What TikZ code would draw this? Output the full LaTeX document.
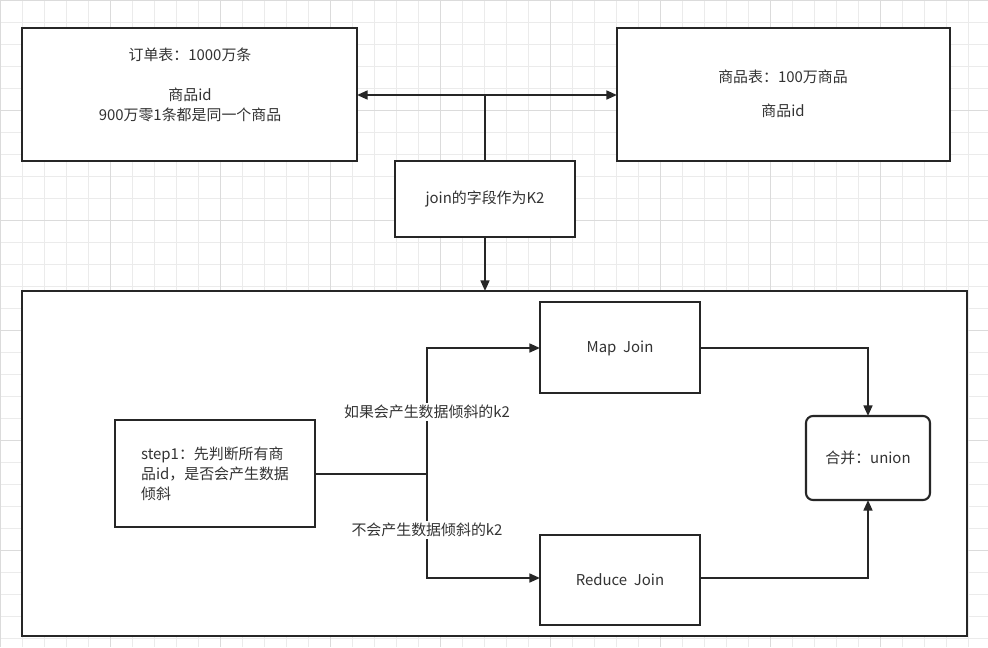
\documentclass[tikz,border=0pt]{standalone}
\usepackage{fontspec}
\setmainfont{Noto Sans CJK SC}
\usetikzlibrary{arrows.meta}
\begin{document}
\begin{tikzpicture}[x=0.02cm,y=-0.02cm,
  box/.style={draw=black!85,line width=1.2pt,fill=white},
  lbl/.style={font=\fontsize{8.5}{11.5}\selectfont,align=center,text=black!80},
  con/.style={line width=1.2pt,draw=black!85},
  arr/.style={con,-{Triangle[length=6pt,width=5pt]}}]
\useasboundingbox (0,0) rectangle (988,647);
\fill[white] (0,0) rectangle (988,647);
\foreach \i in {0,22,...,988} \draw[black!8,line width=0.3pt] (\i,0)--(\i,647);
\foreach \j in {0,22,...,647} \draw[black!8,line width=0.3pt] (0,\j)--(988,\j);
\foreach \i in {0,110,...,988} \draw[black!14,line width=0.4pt] (\i,0)--(\i,647);
\foreach \j in {0,110,...,647} \draw[black!14,line width=0.4pt] (0,\j)--(988,\j);
% boxes
\draw[box] (22,28) rectangle (357,161);
\node[lbl] (o1) at (190,55) {订单表：1000万条};
\node[lbl] (o2) at (190,105) {商品id\\900万零1条都是同一个商品};
\coordinate (oR) at (357,95);
\draw[box] (617,28) rectangle (950,161);
\node[lbl] (p1) at (783,94) {商品表：100万商品\\[8pt]商品id};
\coordinate (pL) at (617,95);
\draw[box] (395,161) rectangle (575,237);
\node[lbl] (jt) at (485,199) {join的字段作为K2};
\draw[box] (22,291) rectangle (967,636);
\draw[box] (540,302) rectangle (700,393);
\node[lbl] (mj) at (620,348) {Map\ \ Join};
\draw[box] (115,420) rectangle (315,527);
\node[lbl,align=left] (s1) at (215,474) {step1：先判断所有商\\品id，是否会产生数据\\倾斜};
\draw[box] (540,535) rectangle (700,625);
\node[lbl] (rj) at (620,580) {Reduce\ \ Join};
\draw[box,rounded corners=4pt] (806,416) rectangle (930,500);
\node[lbl] (u) at (868,458) {合并：union};
% connectors
\coordinate (mid) at (485,95);
\draw[con,{Triangle[length=6pt,width=5pt]}-{Triangle[length=6pt,width=5pt]}] (oR) -- (pL);
\draw[con] (mid) -- (485,161);
\draw[arr] (485,237) -- (485,291);
\coordinate (sp) at (427,474);
\draw[con] (315,474) -- (sp);
\draw[arr] (sp) -- (427,348) -- (540,348);
\draw[arr] (sp) -- (427,578) -- (540,578);
\node[lbl,fill=white,inner sep=1pt] at (427,412) {如果会产生数据倾斜的k2};
\node[lbl,fill=white,inner sep=1pt] at (427,530) {不会产生数据倾斜的k2};
\draw[arr] (700,348) -- (868,348) -- (868,416);
\draw[arr] (700,578) -- (868,578) -- (868,500);
\end{tikzpicture}
\end{document}
